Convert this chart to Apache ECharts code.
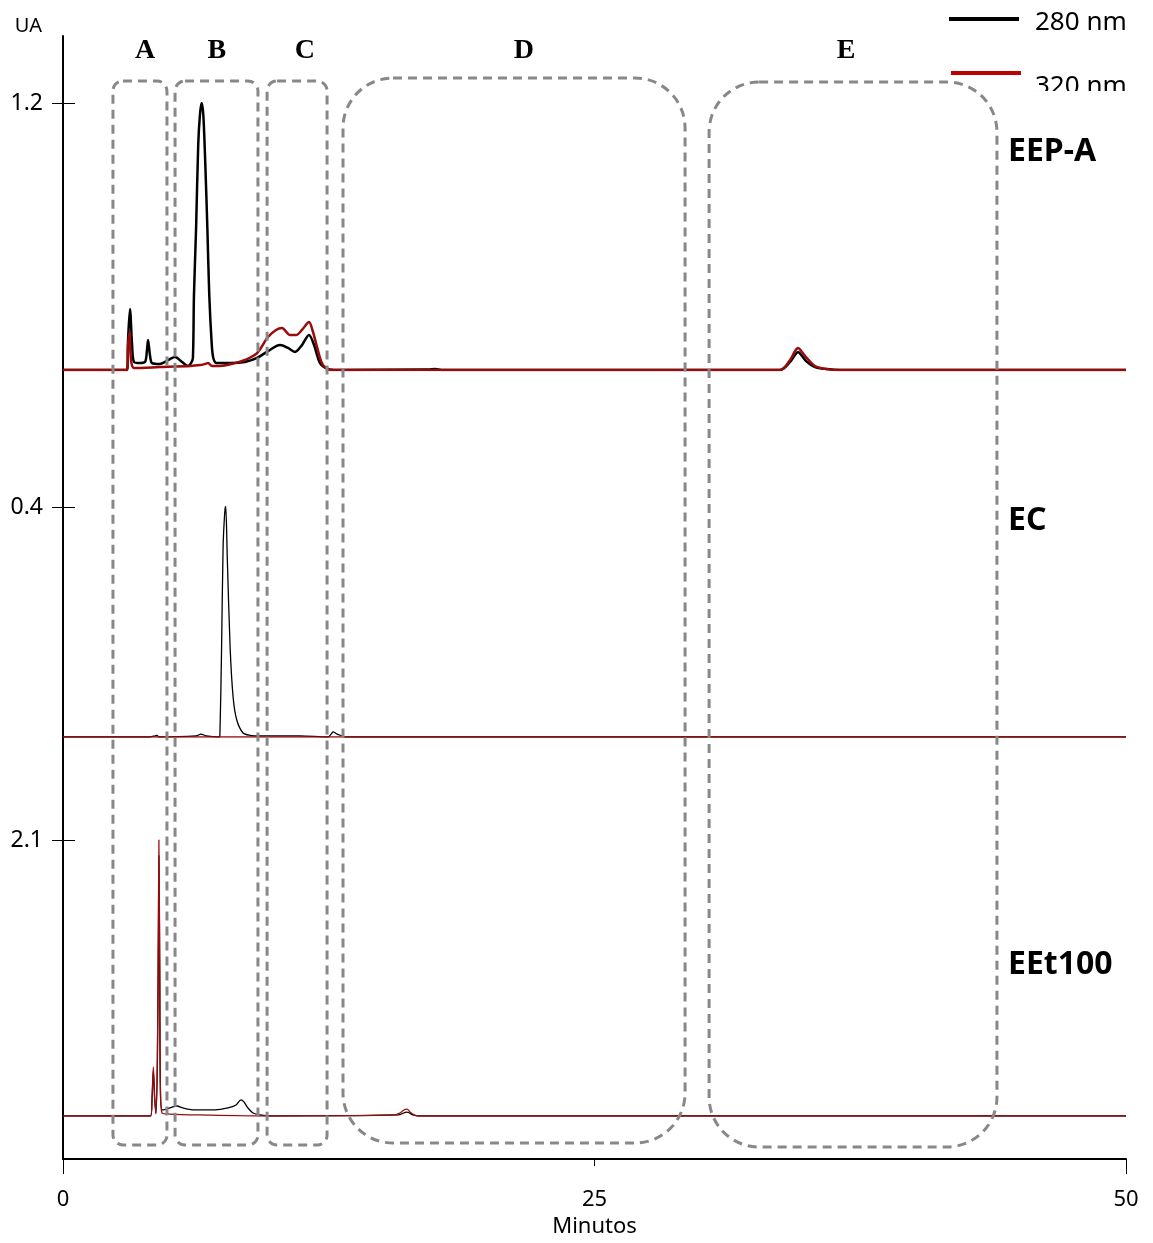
<!DOCTYPE html>
<html>
<head>
<meta charset="utf-8">
<script src="https://cdn.jsdelivr.net/npm/echarts@6/dist/echarts.min.js"></script>
<style>
  html, body { margin: 0; padding: 0; background: #fff; }
  #chart { width: 1153px; height: 1243px; }
</style>
</head>
<body>
<div id="chart"></div>
<script>
// Retention time axis (minutes)
const timeMin = 0;
const timeMax = 50;
const timeStep = 25;

// Samples, stacked top to bottom, with each panel's full-scale absorbance (UA)
const panelNames = ['EEP-A', 'EC', 'EEt100'];
const panelScale = [1.2, 0.4, 2.1];
const wavelengths = ['280 nm', '320 nm'];

// Chromatograms as [minutes, UA]
const eepA280 = [[0,0],[3.01,0],[3.06,0.135],[3.15,0.274],[3.25,0.112],[3.34,0.036],[3.62,0.031],[3.86,0.036],[3.95,0.09],[4.0,0.135],[4.09,0.067],[4.19,0.031],[4.56,0.027],[4.8,0.036],[5.03,0.049],[5.27,0.058],[5.6,0.036],[5.88,0.018],[6.02,0.031],[6.11,0.054],[6.16,0.337],[6.26,0.638],[6.36,1.011],[6.44,1.146],[6.52,1.2],[6.6,1.146],[6.69,0.935],[6.79,0.638],[6.88,0.337],[6.99,0.126],[7.07,0.054],[7.23,0.031],[7.86,0.031],[8.56,0.036],[9.13,0.054],[9.64,0.085],[10.21,0.112],[10.58,0.099],[10.91,0.081],[11.24,0.112],[11.57,0.157],[11.81,0.112],[12.09,0.031],[12.46,0.004],[12.8,0],[17.2,0.002],[17.5,0.004],[17.8,0],[33.73,0],[34.2,0.036],[34.43,0.067],[34.57,0.081],[34.76,0.063],[34.95,0.04],[35.37,0.013],[35.94,0.004],[36.55,0],[50,0]];
const eepA320 = [[0,0],[3.01,0],[3.06,0.112],[3.13,0.171],[3.2,0.045],[3.34,0.009],[4.56,0.013],[5.97,0.018],[6.44,0.022],[6.68,0.027],[6.82,0.031],[7.01,0.018],[7.38,0.018],[8.09,0.031],[8.56,0.045],[9.13,0.076],[9.64,0.148],[10.02,0.18],[10.3,0.189],[10.68,0.157],[10.96,0.157],[11.24,0.18],[11.57,0.216],[11.76,0.171],[11.95,0.103],[12.23,0.022],[12.7,0],[33.73,0],[34.2,0.045],[34.43,0.085],[34.57,0.099],[34.76,0.081],[34.95,0.058],[35.37,0.018],[35.94,0.004],[36.55,0],[50,0]];

const ec280 = [[0,0],[4.09,0],[4.33,0.002],[4.42,0.003],[4.52,0],[6.26,0.002],[6.49,0.005],[6.73,0.002],[7.34,0],[7.38,0.003],[7.46,0.157],[7.53,0.33],[7.6,0.386],[7.65,0.403],[7.73,0.308],[7.86,0.157],[8.0,0.07],[8.17,0.03],[8.47,0.007],[8.8,0.003],[9.27,0.002],[11.15,0.002],[12.46,0],[12.61,0.005],[12.7,0.009],[12.89,0.005],[13.12,0.002],[13.26,0],[50,0]];
const ec320 = [[0,0],[50,0]];

const eet280 = [[0,0],[4.12,0],[4.19,0.137],[4.25,0.342],[4.31,0.137],[4.37,0.023],[4.44,0.418],[4.49,1.446],[4.51,1.98],[4.55,1.065],[4.58,0.228],[4.66,0.046],[4.85,0.053],[5.13,0.068],[5.36,0.076],[5.64,0.061],[6.21,0.046],[7.15,0.046],[7.76,0.061],[8.14,0.084],[8.37,0.122],[8.51,0.107],[8.7,0.061],[8.94,0.023],[9.27,0.008],[9.74,0],[15.76,0.008],[16.18,0.03],[16.46,0.008],[16.7,0],[50,0]];
const eet320 = [[0,0],[4.12,0],[4.19,0.152],[4.25,0.373],[4.31,0.152],[4.37,0.015],[4.44,0.457],[4.49,1.52],[4.51,2.1],[4.55,1.14],[4.58,0.228],[4.66,0.023],[5.03,0.015],[6.44,0.008],[9.27,0],[15.62,0.008],[15.85,0.023],[16.04,0.046],[16.18,0.053],[16.32,0.03],[16.51,0.008],[16.7,0],[50,0]];

// Elution regions (minutes) and where their letters sit
const regionNames = ['A', 'B', 'C', 'D', 'E'];
const regionStart = [2.35, 5.27, 9.60, 13.17, 30.39];
const regionEnd = [4.89, 9.17, 12.42, 29.26, 43.93];
const regionLabelAt = [3.86, 7.24, 11.38, 21.68, 36.83];

// ---- layout ----
const FONT = '"Noto Sans", "Open Sans", sans-serif';
const LEFT = 63, RIGHT = 27;
const panelBox = [
  { top: 103, height: 267 },
  { top: 507, height: 230 },
  { top: 840, height: 276 }
];
const frame = { top: 36, height: 1126 };
const regionBoxY = [[81, 1145], [81, 1145], [81, 1145], [78, 1143], [82, 1147]];
const regionRadius = [10, 10, 10, 50, 50];
const panelLabelY = [152, 521, 965];
const COLOR_280 = '#000000';
const COLOR_320 = '#9a0a0a';
const traces = [[eepA280, eepA320], [ec280, ec320], [eet280, eet320]];
const traceWidth = [2.5, 1.3, 1.3];

const chart = echarts.init(document.getElementById('chart'), null, { renderer: 'canvas' });

const grids = panelBox.map(p => ({ left: LEFT, right: RIGHT, top: p.top, height: p.height }));
grids.push({ left: LEFT, right: RIGHT, top: frame.top, height: frame.height });

const xAxes = panelBox.map((p, i) => ({
  gridIndex: i, type: 'value', min: timeMin, max: timeMax, show: false
}));
xAxes.push({
  gridIndex: 3, type: 'value', position: 'bottom', min: timeMin, max: timeMax, interval: timeStep,
  axisLine: { show: true, lineStyle: { color: '#000', width: 2 } },
  axisTick: { show: true, length: 7, lineStyle: { color: '#000', width: 1 } },
  axisLabel: { margin: 30, color: '#000', fontSize: 22, fontFamily: FONT },
  splitLine: { show: false },
  name: 'Minutos', nameLocation: 'middle', nameGap: 52,
  nameTextStyle: { color: '#000', fontSize: 22, fontFamily: FONT, verticalAlign: 'top', padding: [0, 0, 0, 0] }
});
xAxes.push({
  gridIndex: 3, type: 'value', position: 'bottom', min: timeMin, max: timeMax, interval: timeMax,
  axisLine: { show: false },
  axisTick: { show: true, length: 15, lineStyle: { color: '#000', width: 1 } },
  axisLabel: { show: false },
  splitLine: { show: false }
});

const yAxes = panelScale.map((s, i) => ({
  gridIndex: i, type: 'value', min: 0, max: s, offset: -12,
  axisLine: { show: false },
  axisTick: { show: true, length: 23, customValues: [s], lineStyle: { color: '#000', width: 1 } },
  axisLabel: {
    customValues: [s], margin: 32, color: '#000', fontSize: 23, fontFamily: FONT,
    formatter: v => v.toFixed(1)
  },
  splitLine: { show: false }
}));
yAxes.push({
  gridIndex: 3, type: 'value', min: 0, max: 1,
  axisLine: { show: true, lineStyle: { color: '#000', width: 2 } },
  axisTick: { show: false }, axisLabel: { show: false }, splitLine: { show: false },
  name: 'UA', nameLocation: 'end', nameGap: 0,
  nameTextStyle: { color: '#000', fontSize: 20, fontFamily: FONT, align: 'right', padding: [0, 21, 0, 0] }
});

const series = [];
traces.forEach((pair, i) => {
  pair.forEach((data, j) => {
    series.push({
      name: wavelengths[j],
      type: 'line',
      xAxisIndex: i, yAxisIndex: i,
      data: data,
      showSymbol: false,
      smooth: 0.3,
      lineStyle: { color: j === 0 ? COLOR_280 : COLOR_320, width: traceWidth[i], join: 'round' },
      z: 3 + j,
      silent: true
    });
  });
});

chart.setOption({
  animation: false,
  backgroundColor: '#fff',
  grid: grids,
  xAxis: xAxes,
  yAxis: yAxes,
  series: series
});

// Annotations: dashed elution regions, region letters, sample names, wavelength key
function tx(t) { return chart.convertToPixel({ xAxisIndex: 3 }, t); }

const graphic = [];
regionNames.forEach((n, k) => {
  const x0 = tx(regionStart[k]), x1 = tx(regionEnd[k]);
  const [y0, y1] = regionBoxY[k];
  graphic.push({
    type: 'rect', silent: true, z: 10,
    shape: { x: x0, y: y0, width: x1 - x0, height: y1 - y0, r: regionRadius[k] },
    style: { fill: 'none', stroke: '#888888', lineWidth: 3, lineDash: [9, 6] }
  });
  graphic.push({
    type: 'text', silent: true, z: 10,
    style: {
      text: n, x: tx(regionLabelAt[k]), y: 51, align: 'center', verticalAlign: 'middle',
      font: 'bold 28px "Liberation Serif", "Times New Roman", serif', fill: '#000'
    }
  });
});

panelNames.forEach((n, i) => {
  graphic.push({
    type: 'text', silent: true, z: 10,
    style: {
      text: n, x: 1008, y: panelLabelY[i], align: 'left', verticalAlign: 'middle',
      font: 'bold 32px ' + FONT, fill: '#000'
    }
  });
});

// wavelength key
graphic.push({ type: 'line', silent: true, z: 12, shape: { x1: 949, y1: 19, x2: 1019, y2: 19 }, style: { stroke: COLOR_280, lineWidth: 4 } });
graphic.push({ type: 'text', silent: true, z: 12, style: { text: wavelengths[0], x: 1035, y: 23, align: 'left', verticalAlign: 'middle', font: '26px ' + FONT, fill: '#000' } });
graphic.push({ type: 'line', silent: true, z: 12, shape: { x1: 951, y1: 73, x2: 1021, y2: 73 }, style: { stroke: '#c00000', lineWidth: 4 } });
graphic.push({ type: 'text', silent: true, z: 12, style: { text: wavelengths[1], x: 1035, y: 87, align: 'left', verticalAlign: 'middle', font: '26px ' + FONT, fill: '#000' } });
// the key box crops the lower edge of the second entry
graphic.push({ type: 'rect', silent: true, z: 13, shape: { x: 1028, y: 91, width: 110, height: 14 }, style: { fill: '#fff' } });

chart.setOption({ graphic: graphic });
</script>
</body>
</html>
